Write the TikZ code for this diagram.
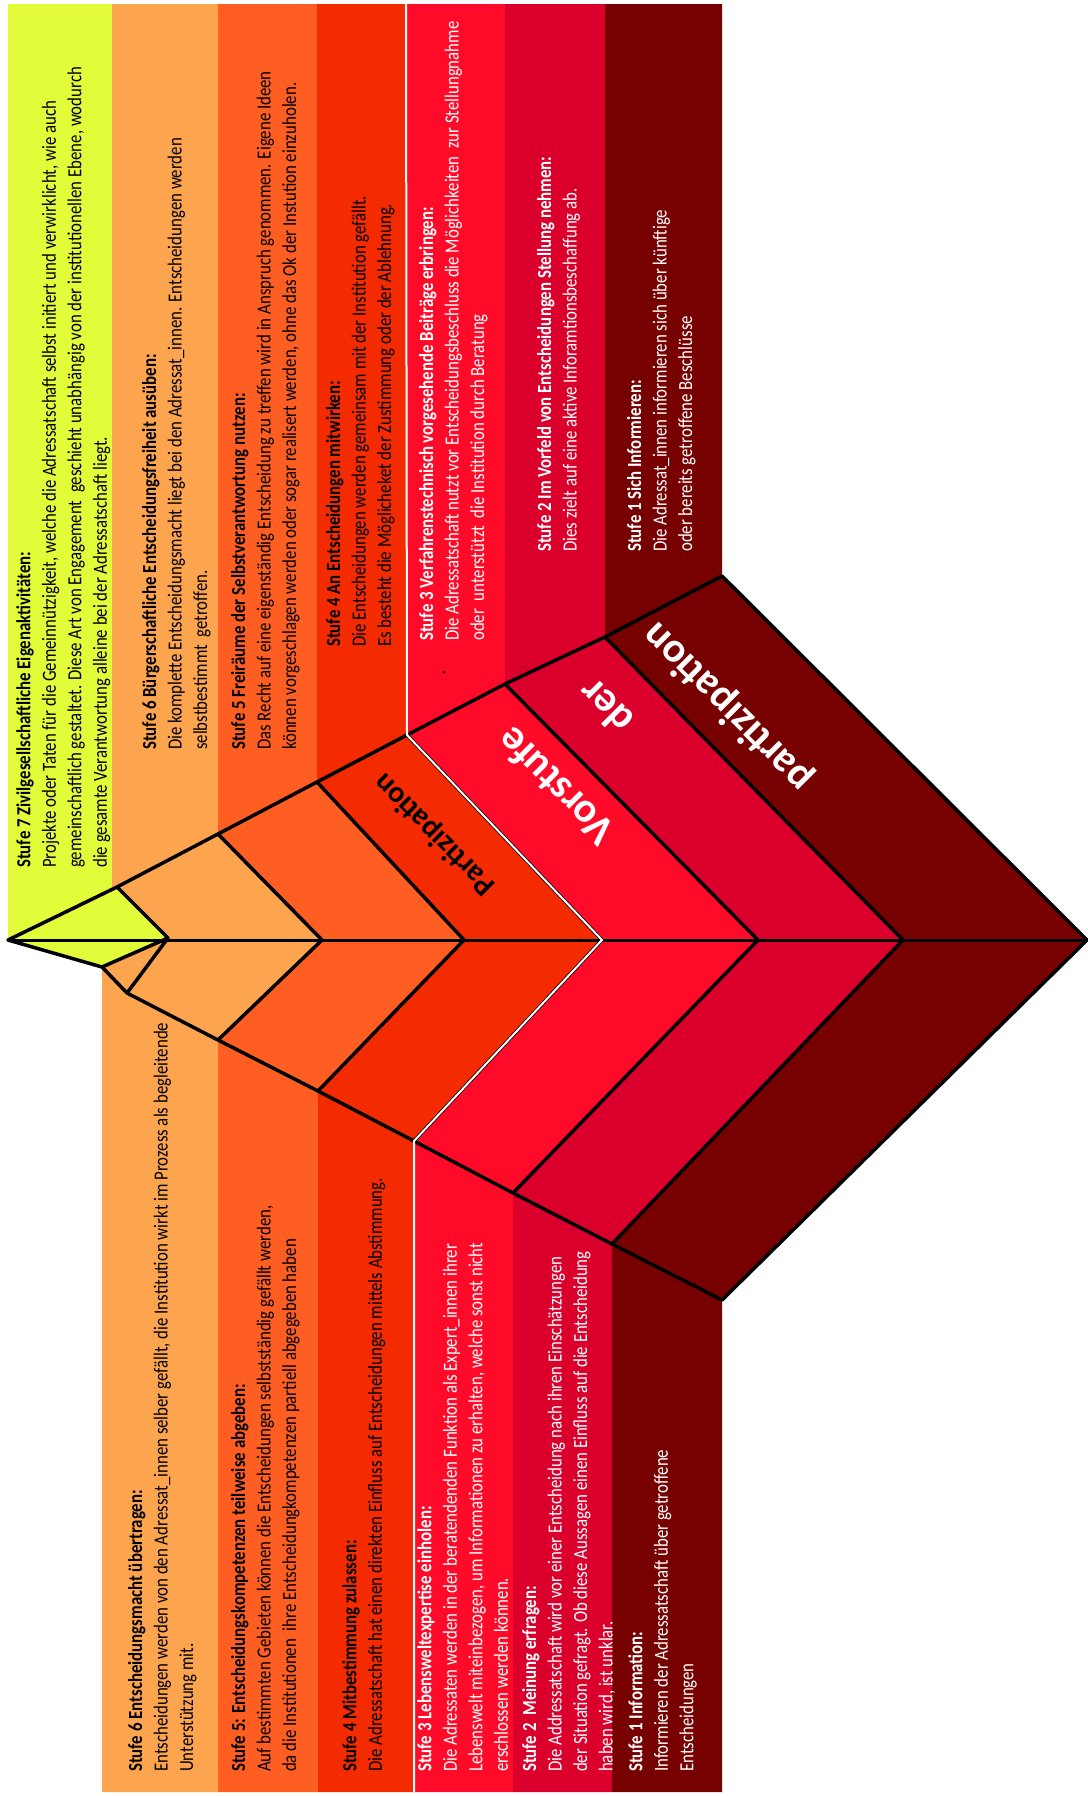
\documentclass[tikz,border=0pt]{standalone}
\usepackage{fontspec}
\setmainfont{Carlito}
\newfontfamily\schmal[FakeStretch=0.84]{Carlito}
\usepackage{tikz}

\definecolor{stufesieben}{HTML}{E3FC3A}
\definecolor{stufesechs}{HTML}{FDA54E}
\definecolor{stufefuenf}{HTML}{FF5E22}
\definecolor{stufevier}{HTML}{F42A00}
\definecolor{stufedrei}{HTML}{FF0A28}
\definecolor{stufezwei}{HTML}{DA002B}
\definecolor{stufeeins}{HTML}{770000}

\tikzset{
  stufe/.style={rotate=90, anchor=north west, inner sep=0pt, align=left,
    font=\schmal\fontsize{20}{25.5}\selectfont},
  band/.style={rotate=135, inner sep=0pt, font=\bfseries\fontsize{42}{42}\selectfont},
  kante/.style={line width=3.5pt, line join=round},
}

\begin{document}
\begin{tikzpicture}[x=1pt, y=-1pt]
        \useasboundingbox (0,0) rectangle (1087,1796);

        % eckpunkte der pfeilspitze
        \coordinate (tip) at (8,940);
        \coordinate (u7) at (117,887);  \coordinate (c7) at (168,938);  \coordinate (l7) at (102,967);
        \coordinate (k7) at (127,993);
        \coordinate (u6) at (218,834);  \coordinate (c6) at (322,940);  \coordinate (l6) at (218,1040);
        \coordinate (u5) at (317,782);  \coordinate (c5) at (464,940);  \coordinate (l5) at (318,1091);
        \coordinate (u4) at (407,735);  \coordinate (c4) at (602,940);  \coordinate (l4) at (414,1141);
        \coordinate (u3) at (505,684);  \coordinate (c3) at (758,940);  \coordinate (l3) at (513,1193);
        \coordinate (u2) at (605,637);  \coordinate (c2) at (903,940);  \coordinate (l2) at (612,1244);
        \coordinate (u1) at (722,576);  \coordinate (c1) at (1087,940); \coordinate (l1) at (722,1300);

        % flaechen, spalte und band in einem
        \fill[stufesieben] (8,4) -- (112,4) -- (112,889) -- (u7) -- (c7) -- (l7) -- (tip) -- cycle;
        \fill[stufesechs] (112,4) -- (218,4) -- (u6) -- (c6) -- (l6) -- (218,1792) -- (102,1792) -- (l7) -- (c7) -- (u7) -- (112,889) -- cycle;
        \fill[stufefuenf] (218,4) -- (317,4) -- (u5) -- (c5) -- (l5) -- (318,1792) -- (218,1792) -- (l6) -- (c6) -- (u6) -- cycle;
        \fill[stufevier] (317,4) -- (407,4) -- (u4) -- (c4) -- (l4) -- (414,1792) -- (318,1792) -- (l5) -- (c5) -- (u5) -- cycle;
        \fill[stufedrei] (407,4) -- (505,4) -- (u3) -- (c3) -- (l3) -- (513,1792) -- (414,1792) -- (l4) -- (c4) -- (u4) -- cycle;
        \fill[stufezwei] (505,4) -- (605,4) -- (u2) -- (c2) -- (l2) -- (612,1792) -- (513,1792) -- (l3) -- (c3) -- (u3) -- cycle;
        \fill[stufeeins] (605,4) -- (722,4) -- (u1) -- (c1) -- (l1) -- (722,1792) -- (612,1792) -- (l2) -- (c2) -- (u2) -- cycle;

        % umriss und mittellinie
        \draw[kante] (tip) -- (u7) -- (u6) -- (u5) -- (u4) -- (u3) -- (u2) -- (u1) -- (c1)
          -- (l1) -- (l2) -- (l3) -- (l4) -- (l5) -- (l6) -- (k7) -- (l7) -- cycle;
        \draw[line width=3pt] (tip) -- (c1);
        \draw[kante] (u7) -- (c7) -- (l7) (c7) -- (k7);
        \foreach \s in {6,5,3,2}
          \draw[kante] (u\s) -- (c\s) -- (l\s);
        \draw[kante] (u4) -- (c4) -- (l4);
        \draw[white, line width=2pt] (406,4) -- (u4) -- (c4) -- (l4) -- (414,1792);
        \fill (444,672) circle (1.5pt);

        \node[band] (vier) at (435,834) {\fontsize{30}{30}\selectfont Partizipation};
        \node[band, text=white] (vorstufe) at (555,787) {Vorstufe};
        \node[band, text=white] (der) at (605,707) {der};
        \node[band, text=white] (partizipation) at (728,707) {partizipation};

        % obere texte
        \node[stufe] (o7) at (16,868) {\textbf{Stufe 7 Zivilgesellschaftliche Eigenaktivitäten:}\\
          Projekte oder Taten für die Gemeinnützigkeit, welche die Adressatschaft selbst initiert und verwirklicht, wie auch\\
          gemeinschaftlich gestaltet. Diese Art von Engagement\ \ geschieht unabhängig von der institutionellen Ebene, wodurch\\
          die gesamte Verantwortung alleine bei der Adressatschaft liegt.};
        \node[stufe] (o6) at (142,750) {\textbf{Stufe 6 Bürgerschaftliche Entscheidungsfreiheit ausüben:}\\
          Die komplette Entscheidungsmacht liegt bei den Adressat\_innen. Entscheidungen werden\\
          selbstbestimmt\ \ getroffen.};
        \node[stufe] (o5) at (231,750) {\textbf{Stufe 5 Freiräume der Selbstverantwortung nutzen:}\\
          Das Recht auf eine eigenständig Entscheidung zu treffen wird in Anspruch genommen. Eigene Ideen\\
          können vorgeschlagen werden oder sogar realisert werden, ohne das Ok der Instution einzuholen.};
        \node[stufe] (o4) at (326,647) {\textbf{Stufe 4 An Entscheidungen mitwirken:}\\
          Die Entscheidungen werden gemeinsam mit der Institution gefällt.\\
          Es besteht die Möglicheket der Zustimmung oder der Ablehnung.};
        \node[stufe, text=white] (o3) at (419,641) {\textbf{Stufe 3 Verfahrenstechnisch vorgesehende Beiträge erbringen:}\\
          Die Adressatschaft nutzt vor Entscheidungsbeschluss die Möglichkeiten\ \ zur Stellungnahme\\
          oder\ \ unterstützt\ \ die Institution durch Beratung};
        \node[stufe, text=white] (o2) at (537,552) {\textbf{Stufe 2 Im Vorfeld von Entscheidungen Stellung nehmen:}\\
          Dies zielt auf eine aktive Inforamtionsbeschaffung ab.};
        \node[stufe, text=white] (o1) at (627,552) {\textbf{Stufe 1 Sich Informieren:}\\
          Die Adressat\_innen informieren sich über künftige\\
          oder bereits getroffene Beschlüsse};

        % untere texte
        \node[stufe] (u6t) at (128,1772) {\textbf{Stufe 6 Entscheidungsmacht übertragen:}\\
          Entscheidungen werden von den Adressat\_innen selber gefällt, die Institution wirkt im Prozess als begleitende\\
          Unterstützung mit.};
        \node[stufe] (u5t) at (231,1772) {\textbf{Stufe 5: Entscheidungskompetenzen teilweise abgeben:}\\
          Auf bestimmten Gebieten können die Entscheidungen selbstständig gefällt werden,\\
          da die Institutionen\ \ ihre Entscheidungkompetenzen partiell abgegeben haben};
        \node[stufe] (u4t) at (342,1772) {\textbf{Stufe 4 Mitbestimmung zulassen:}\\
          Die Adressatschaft hat einen direkten Einfluss auf Entscheidungen mittels Abstimmung.};
        \node[stufe, text=white] (u3t) at (417,1772) {\textbf{Stufe 3 Lebensweltexpertise einholen:}\\
          Die Adressaten werden in der beratendenden Funktion als Expert\_innen ihrer\\
          Lebenswelt miteinbezogen, um Informationen zu erhalten, welche sonst nicht\\
          erschlossen werden können.};
        \node[stufe, text=white] (u2t) at (522,1772) {\textbf{Stufe 2\ \ Meinung erfragen:}\\
          Die Addressatschaft wird vor einer Entscheidung nach ihren Einschätzungen\\
          der Situation gefragt. Ob diese Aussagen einen Einfluss auf die Entscheidung\\
          haben wird, ist unklar.};
        \node[stufe, text=white] (u1t) at (628,1772) {\textbf{Stufe 1 Information:}\\
          Informieren der Adressatschaft über getroffene\\
          Entscheidungen};
      \end{tikzpicture}
\end{document}
